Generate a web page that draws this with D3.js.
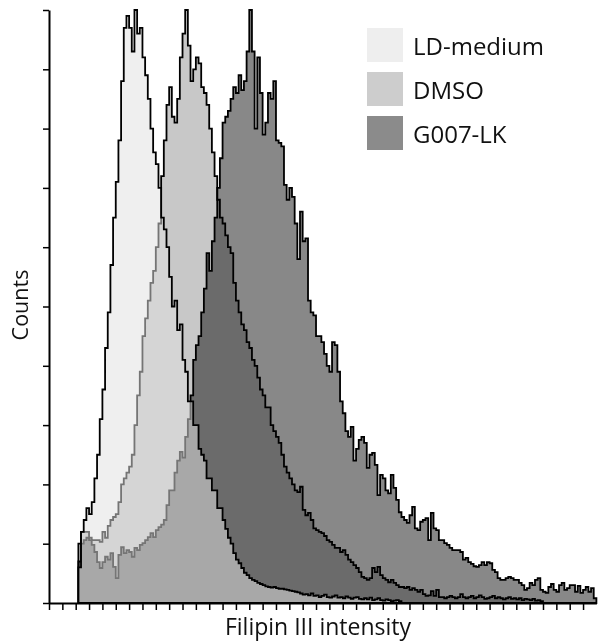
<html>
<head>
<title>Filipin histogram</title>
<script src="https://d3js.org/d3.v7.min.js"></script>
<style>
body { margin: 0; background: #fff; }
text { font-family: "Open Sans", sans-serif; fill: #111; }
</style>
</head>
<body>
<script>
// histogram counts, % of mode, one value per channel bin
var ldStart = 11;
var ldMedium = [
  6, 12, 14, 16, 15, 17, 21, 25, 31, 36,
  43, 49, 57, 65, 71, 78, 88, 97, 99, 97,
  93, 100, 96, 97, 92, 89, 85, 80, 76, 74,
  70, 65, 63, 60, 55, 50, 51, 46, 47, 41,
  39, 34, 34, 30, 30, 26, 25, 24, 21, 21,
  19, 19, 16, 16, 14, 12.5, 11, 10, 8.4, 7.3,
  6.7, 5.9, 5.1, 4.7, 4.2, 3.9, 3.7, 3.4, 3.2, 3.0,
  2.8, 2.7, 2.6, 2.7, 2.5, 2.4, 2.4, 2.3, 2.2, 2.1,
  2.0, 1.9, 1.8, 1.6, 1.4, 1.5, 1.3, 1.6, 1.2, 1.3,
  1.0, 1.2, 1.4, 1.0, 0.9, 1.1, 1.3, 0.9, 1.0, 0.8,
  1.1, 0.9, 0.7, 0.9, 1.0, 0.7, 0.6, 0.8, 0.6, 0.9,
  0.5, 0.6, 0.8, 0.5, 0.4, 0.6, 0.5, 0.3, 0.4, 0.5,
  0.3
];

var dmsoStart = 11;
var dmso = [
  10, 12, 12, 12, 11, 10.6, 10.6, 10.6, 10.3, 12,
  11, 13, 14, 14.5, 15, 17, 20, 21, 22, 23,
  25, 30, 35, 39, 45, 48, 51, 54, 56, 60,
  64, 72, 78, 84, 87, 82, 81, 85, 92, 96,
  100, 94, 88, 90, 92, 91, 87, 86, 84, 80,
  76, 72, 68, 65, 64, 62, 60, 59, 54, 51,
  49, 47, 46, 44, 43, 41, 40, 38, 36, 35,
  33, 33, 30, 29, 28, 27, 25, 23, 22, 21,
  20, 19, 18.7, 19.6, 15.7, 14.8, 15.2, 14, 12.6, 12.3,
  12, 11.8, 11.3, 10.6, 10.3, 9.8, 9.3, 9.3, 8.6, 8.9,
  8.1, 7.3, 6.9, 6.4, 5.9, 5.2, 4.4, 4.2, 3.9, 4.2,
  5.9, 5.2, 6.1, 4.7, 4.2, 3.9, 3.5, 3.9, 3.4, 3.0,
  2.7, 2.7, 2.5, 2.7, 2.2, 2.5, 2.2, 1.9, 2.2, 1.5,
  1.2, 1.3, 2.0, 1.2, 2.2, 1.0,
  1.0, 0.8, 1.0, 1.2, 1.0, 0.8, 1.0, 1.5, 1.0, 0.8,
  1.0, 1.2, 0.8, 1.0, 1.3, 1.0, 0.7, 0.8, 1.0, 1.2,
  0.8, 1.0, 0.8, 0.6, 0.8, 1.0, 0.7, 0.8, 0.6, 0.8,
  0.5, 0.7, 0.6, 0.5, 0.7, 0.4, 0.5, 0.3
];

var g007Start = 11;
var g007 = [
  7, 10, 10.6, 11, 10.6, 9.8, 8.6, 6.9, 5.9, 6.9,
  7.8, 7.3, 8.4, 6.1, 4.2, 8.1, 9.4, 8.4, 8.9, 8.6,
  7.8, 9.3, 8.9, 9.8, 10.1, 10.6, 11.1, 11.8, 11.1, 12.3,
  12.8, 13.2, 14, 16.5, 19, 19, 22, 24, 25.5, 24.5,
  28, 31, 35, 41, 43.5, 45, 49, 53, 59, 56,
  61, 65, 70, 75, 81, 82, 83, 85, 87, 86,
  89, 86.5, 88, 93, 100, 93, 80, 92, 86, 79,
  81, 86, 85, 88, 78, 77.6, 77, 70.5, 68, 70,
  68.5, 64, 58, 66, 61, 61.5, 51, 49, 48.5, 45,
  45, 44, 42, 40, 39, 44, 43.5, 39, 34, 32,
  29, 28, 29.7, 24, 26, 27.5, 28, 27, 22.8, 25,
  25.3, 23.3, 18.2, 21.6, 21, 19, 18.5, 21.6, 19.4, 17.4,
  15.3, 14.5, 14, 13.5, 14.8, 16.2, 12.6, 12.3, 13.7, 14,
  14.3, 10.6, 15.2, 12.6, 12.3, 10.6, 10.6, 10.1, 9.8, 9.3,
  8.9, 8.9, 8.9, 8.6, 7.3, 7.6, 6.9, 6.6, 6.2, 6.1,
  6.4, 6.9, 6.4, 6.9, 6.7, 5.6, 5.2, 4.2, 3.9, 3.9,
  4.2, 4.4, 4.2, 3.9, 3.9, 3.4, 3.0, 2.2, 2.5, 3.4,
  3.0, 3.9, 4.2, 2.2, 1.9, 1.7, 2.7, 3.2, 2.2, 1.9,
  3.0, 3.4, 2.2, 2.5, 3.0, 3.0, 1.9, 2.9, 1.7, 2.2,
  2.7, 1.9, 2.5, 0.8
];

var legendNames = ["LD-medium", "DMSO", "G007-LK"];
var legendColors = ["#eeeeee", "#cdcdcd", "#8b8b8b"];

var width = 599, height = 642;

var svg = d3.select("body").append("svg")
  .attr("width", width)
  .attr("height", height);

var x = d3.scaleLinear().domain([0, 205]).range([49, 596.4]);
var y = d3.scaleLinear().domain([0, 100]).range([603, 10]);

// turn a list of counts into step points
function bins(start, values) {
  var pts = values.map(function(v, i) { return {b: start + i, v: v}; });
  pts.push({b: start + values.length, v: 0});
  return pts;
}

var area = d3.area()
  .curve(d3.curveStepAfter)
  .x(function(d) { return x(d.b); })
  .y0(y(0))
  .y1(function(d) { return y(d.v); });

// G007-LK at the back
svg.append("path")
  .attr("d", area(bins(g007Start, g007)))
  .attr("fill", "#888888")
  .attr("stroke", "#000")
  .attr("stroke-width", 1.8);

// DMSO darkens what is under it
svg.append("path")
  .attr("d", area(bins(dmsoStart, dmso)))
  .attr("fill", "#c8c8c8")
  .attr("stroke", "#000")
  .attr("stroke-width", 1.8)
  .style("mix-blend-mode", "multiply");

// LD-medium on top, half transparent fill
svg.append("path")
  .attr("d", area(bins(ldStart, ldMedium)))
  .attr("fill", "#e0e0e0")
  .attr("fill-opacity", 0.52)
  .attr("stroke", "#000")
  .attr("stroke-width", 1.8);

// axes
var yAxis = svg.append("g")
  .attr("transform", "translate(49,0)")
  .call(d3.axisLeft(y).tickValues(d3.range(0, 101, 10)).tickFormat("").tickSize(6).tickSizeOuter(0));
yAxis.select(".domain").attr("stroke-width", 2);
yAxis.selectAll(".tick line").attr("stroke-width", 1.5);

var xAxis = svg.append("g")
  .attr("transform", "translate(0,603)")
  .call(d3.axisBottom(x).tickValues(d3.range(0, 201, 5)).tickFormat("").tickSize(7).tickSizeOuter(0));
xAxis.select(".domain").attr("stroke-width", 2);
xAxis.selectAll(".tick line").attr("stroke-width", 1.5);

svg.append("text")
  .attr("x", 318)
  .attr("y", 635)
  .attr("text-anchor", "middle")
  .style("font-size", "23px")
  .text("Filipin III intensity");

svg.append("text")
  .attr("transform", "translate(28,305) rotate(-90)")
  .attr("text-anchor", "middle")
  .style("font-size", "21.5px")
  .text("Counts");

// legend
var legend = svg.selectAll("g.legend")
  .data(legendNames)
  .enter().append("g")
    .attr("class", "legend")
    .attr("transform", function(d, i) { return "translate(367," + (28 + i * 44) + ")"; });

legend.append("rect")
  .attr("width", 36)
  .attr("height", 34)
  .attr("fill", function(d, i) { return legendColors[i]; });

legend.append("text")
  .attr("x", 46)
  .attr("y", 27)
  .style("font-size", "24px")
  .text(function(d) { return d; });
</script>
</body>
</html>
